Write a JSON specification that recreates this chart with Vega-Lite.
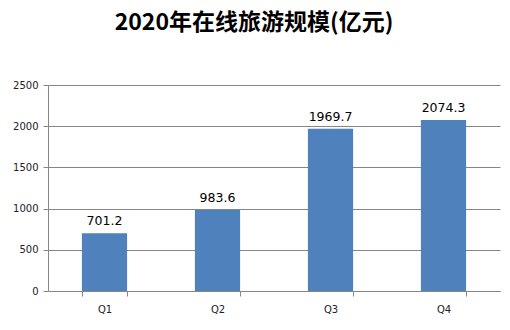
{
  "$schema": "https://vega.github.io/schema/vega-lite/v6.json",
  "autosize": "none",
  "width": 452,
  "height": 206,
  "padding": {"left": 48, "top": 85, "right": 10, "bottom": 39},
  "background": "white",
  "title": {
    "text": "2020年在线旅游规模(亿元)",
    "font": "Noto Sans CJK SC",
    "fontSize": 23,
    "fontWeight": "bold",
    "color": "#000000",
    "anchor": "middle",
    "offset": 45,
    "dx": -20
  },
  "data": {
    "values": [
      {"q": "Q1", "v": 701.2},
      {"q": "Q2", "v": 983.6},
      {"q": "Q3", "v": 1969.7},
      {"q": "Q4", "v": 2074.3}
    ]
  },
  "encoding": {
    "x": {
      "field": "q",
      "type": "nominal",
      "sort": null,
      "scale": {"paddingInner": 0.6, "paddingOuter": 0.3},
      "axis": {
        "title": null,
        "labelAngle": 0,
        "labelFont": "DejaVu Sans",
        "labelFontSize": 10,
        "labelColor": "#222222",
        "labelPadding": 8,
        "domainColor": "#868686",
        "tickColor": "#868686",
        "tickBand": "extent",
        "tickSize": 5
      }
    },
    "y": {
      "field": "v",
      "type": "quantitative",
      "scale": {"domain": [0, 2500], "nice": false},
      "axis": {
        "title": null,
        "format": "d",
        "values": [0, 500, 1000, 1500, 2000, 2500],
        "labelFont": "DejaVu Sans",
        "labelFontSize": 10,
        "labelColor": "#222222",
        "labelPadding": 5,
        "domainColor": "#868686",
        "tickColor": "#868686",
        "tickSize": 5,
        "gridColor": "#868686",
        "grid": true
      }
    }
  },
  "layer": [
    {"mark": {"type": "bar", "color": "#4F81BD"}},
    {
      "mark": {"type": "text", "dy": -12, "font": "DejaVu Sans", "fontSize": 12.5, "color": "#000000"},
      "encoding": {"text": {"field": "v", "type": "quantitative", "format": ".1f"}}
    }
  ],
  "config": {"view": {"stroke": null}}
}
